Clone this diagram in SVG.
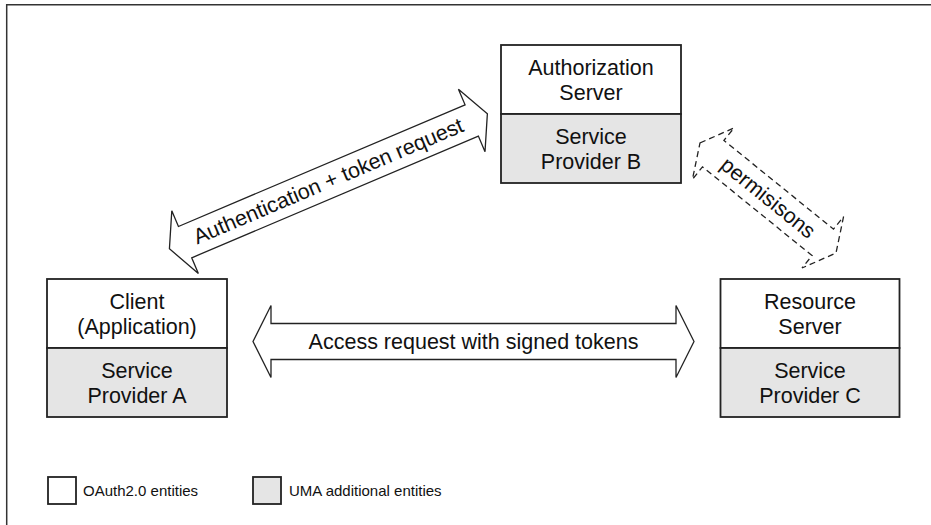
<svg xmlns="http://www.w3.org/2000/svg" width="931" height="525" viewBox="0 0 931 525">
<style>
text{font-family:"Liberation Sans",Arial,Helvetica,sans-serif;fill:#111;}
.t{font-size:21.5px;text-anchor:middle;}
.lg{font-size:15px;}
.box{fill:#fff;stroke:#222;stroke-width:1.8;}
.uma{fill:#e5e5e5;stroke:#222;stroke-width:1.8;}
.arr{fill:#fff;stroke:#222;stroke-width:1.3;stroke-linejoin:miter;}
.dash{fill:#fff;stroke:#222;stroke-width:1.3;stroke-dasharray:6,4;}
</style>
<rect width="931" height="525" fill="#fff"/>
<path d="M931,4.7 H6.7 V525" fill="none" stroke="#333" stroke-width="1.5"/>
<g id="connectors">
<g id="auth-arrow" transform="translate(328.4,181.3) rotate(-23)">
<path class="arr" d="M-172.7,0 L-155.7,-34 L-155.7,-17 L155.7,-17 L155.7,-34 L172.7,0 L155.7,34 L155.7,17 L-155.7,17 L-155.7,34 Z"/>
<text class="t" x="0" y="7">Authentication + token request</text>
</g>
<g id="access-arrow" transform="translate(473.5,341.5)">
<path class="arr" d="M-220.5,0 L-202.5,-36 L-202.5,-18 L202.5,-18 L202.5,-36 L220.5,0 L202.5,36 L202.5,18 L-202.5,18 L-202.5,36 Z"/>
<text class="t" x="0" y="7">Access request with signed tokens</text>
</g>
<g id="perm-arrow" transform="translate(768,198) rotate(39)">
<path class="dash" d="M-87.5,0 L-70.5,-33 L-70.5,-17 L70.5,-17 L70.5,-33 L87.5,0 L70.5,33 L70.5,17 L-70.5,17 L-70.5,33 Z"/>
<text class="t" x="0" y="7">permisisons</text>
</g>
</g>
<g id="auth-server">
<rect class="box" x="501" y="45" width="180" height="69"/>
<rect class="uma" x="501" y="114" width="180" height="69"/>
<text class="t" x="591" y="75">Authorization</text>
<text class="t" x="591" y="100">Server</text>
<text class="t" x="591" y="143.5">Service</text>
<text class="t" x="591" y="168.5">Provider B</text>
</g>
<g id="client">
<rect class="box" x="47" y="279" width="180" height="69"/>
<rect class="uma" x="47" y="348" width="180" height="69"/>
<text class="t" x="137" y="309">Client</text>
<text class="t" x="137" y="334">(Application)</text>
<text class="t" x="137" y="377.5">Service</text>
<text class="t" x="137" y="402.5">Provider A</text>
</g>
<g id="resource-server">
<rect class="box" x="720.5" y="279" width="179" height="69"/>
<rect class="uma" x="720.5" y="348" width="179" height="69"/>
<text class="t" x="810" y="309">Resource</text>
<text class="t" x="810" y="334">Server</text>
<text class="t" x="810" y="377.5">Service</text>
<text class="t" x="810" y="402.5">Provider C</text>
</g>
<g id="legend">
<rect class="box" x="48" y="477" width="28" height="27" stroke-width="1.5"/>
<text class="lg" x="83" y="496">OAuth2.0 entities</text>
<rect class="uma" x="253" y="477" width="28" height="27" stroke-width="1.5"/>
<text class="lg" x="289" y="496">UMA additional entities</text>
</g>
</svg>
